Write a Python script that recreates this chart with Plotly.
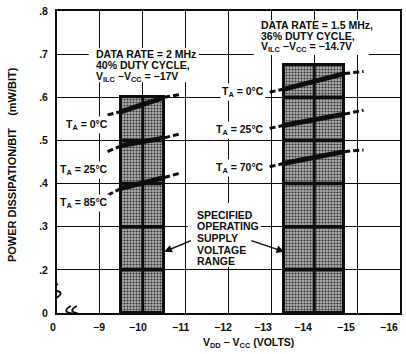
import plotly.graph_objects as go

# Specified operating supply ranges, V_DD - V_CC (volts), and band tops (mW/bit)
RANGE_LOW = [-9.5, -13.3]
RANGE_HIGH = [-10.5, -14.7]
RANGE_TOP = [0.60, 0.675]

# Power curves: extrapolated start, range edges, extrapolated end
G1_VOLTS = [-9.18, -9.5, -10.5, -10.9]
G1_TEMPS = ["0°C", "25°C", "85°C"]
G1_POWER = [
    [0.559, 0.567, 0.600, 0.607],
    [0.474, 0.488, 0.506, 0.516],
    [0.373, 0.389, 0.414, 0.425],
]
G2_VOLTS = [-12.96, -13.3, -14.7, -15.15]
G2_TEMPS = ["0°C", "25°C", "70°C"]
G2_POWER = [
    [0.612, 0.619, 0.655, 0.660],
    [0.528, 0.535, 0.561, 0.570],
    [0.439, 0.447, 0.474, 0.478],
]

X_TICKS = [-8, -9, -10, -11, -12, -13, -14, -15, -16]
X_TICK_TEXT = ["0", "−9", "−10", "−11", "−12", "−13", "−14", "−15", "−16"]
Y_TICKS = [0.1, 0.2, 0.3, 0.4, 0.5, 0.6, 0.7, 0.8]
Y_TICK_TEXT = ["0", ".2", ".3", ".4", ".5", ".6", ".7", ".8"]

G1_NOTE = ["DATA RATE = 2 MHz", "40% DUTY CYCLE,",
           "V<sub>ILC</sub> −V<sub>CC</sub> = −17V"]
G2_NOTE = ["DATA RATE = 1.5 MHz,", "36% DUTY CYCLE,",
           "V<sub>ILC</sub> −V<sub>CC</sub> = −14.7V"]
RANGE_NOTE = ["SPECIFIED", "OPERATING", "SUPPLY", "VOLTAGE", "RANGE"]

FONT = "Liberation Sans, Arial, Helvetica, sans-serif"
INK = "#0d0d0d"
FLOOR = Y_TICKS[0]  # axis floor, labelled "0" across the axis break

fig = go.Figure()

# shaded operating-range bands
for lo, hi, top in zip(RANGE_LOW, RANGE_HIGH, RANGE_TOP):
    fig.add_trace(go.Bar(
        x=[(lo + hi) / 2], y=[top - FLOOR], base=[FLOOR], width=[abs(hi - lo)],
        marker=dict(color="#a6a6a6",
                    line=dict(color=INK, width=3),
                    pattern=dict(shape=".", fgcolor="#2e2e2e", bgcolor="#b0b0b0",
                                 size=3, solidity=0.4)),
        showlegend=False, hoverinfo="skip"))

shapes = []

# heavy grid lines showing through the bands
for lo, hi, top in zip(RANGE_LOW, RANGE_HIGH, RANGE_TOP):
    for yv in Y_TICKS[1:]:
        if yv < top - 1e-6:
            shapes.append(dict(type="line", xref="x", yref="y", x0=lo, x1=hi,
                               y0=yv, y1=yv, line=dict(color=INK, width=3.5)))
    for xv in X_TICKS:
        if min(lo, hi) < xv < max(lo, hi):
            shapes.append(dict(type="line", xref="x", yref="y", x0=xv, x1=xv,
                               y0=FLOOR, y1=top, line=dict(color=INK, width=3)))

# white panels behind the note blocks
for x0, x1, y0, y1 in ((-8.74, -11.31, 0.635, 0.714),
                       (-12.59, -15.27, 0.698, 0.779),
                       (-11.05, -12.75, 0.207, 0.355)):
    shapes.append(dict(type="rect", xref="x", yref="y", x0=x0, x1=x1, y0=y0, y1=y1,
                       fillcolor="white", line=dict(width=0)))

# axis-break squiggles
S_PATH = "M -1,-7 C 5,-4 5,-1 0,0 C -5,1 -5,4 1,7"
breaks = [(X_TICKS[0], 0.151, [0])]
breaks.append((-8.37, FLOOR, [-3, 3]))
for bx, by, offs in breaks:
    shapes.append(dict(type="rect", xref="x", yref="y", xsizemode="pixel",
                       ysizemode="pixel", xanchor=bx, yanchor=by,
                       x0=min(offs) - 4, x1=max(offs) + 4, y0=-6, y1=6,
                       fillcolor="white", line=dict(width=0)))
    for o in offs:
        path = S_PATH.replace("M -1", f"M {o - 1}").replace("C 5,-4 5,-1 0,0",
                                                             f"C {o + 5},-4 {o + 5},-1 {o},0")
        path = path.replace("C -5,1 -5,4 1,7", f"C {o - 5},1 {o - 5},4 {o + 1},7")
        shapes.append(dict(type="path", xref="x", yref="y", xsizemode="pixel",
                           ysizemode="pixel", xanchor=bx, yanchor=by, path=path,
                           line=dict(color=INK, width=1.8)))


def add_curve(volts, power):
    # dashed extrapolations outside the band, solid heavy line inside it
    for (a, b), dash, w in (((0, 2), "6px,3px", 3), ((1, 3), "solid", 5), ((2, 4), "6px,3px", 3)):
        fig.add_trace(go.Scatter(x=volts[a:b], y=power[a:b], mode="lines",
                                 line=dict(color=INK, width=w, dash=dash),
                                 showlegend=False, hoverinfo="skip"))


for p in G1_POWER:
    add_curve(G1_VOLTS, p)
for p in G2_POWER:
    add_curve(G2_VOLTS, p)

ann = []


def label(text, x, y, xanchor="left", size=10.5, bg=None):
    ann.append(dict(text=text, x=x, y=y, xref="x", yref="y", xanchor=xanchor,
                    yanchor="middle", showarrow=False, bgcolor=bg, borderpad=1,
                    font=dict(family=FONT, size=size, color=INK, weight="bold")))


for line, yv in zip(G1_NOTE, [0.700, 0.675, 0.648]):
    label(line, -8.86, yv)
for line, yv in zip(G2_NOTE, [0.7675, 0.7425, 0.717]):
    label(line, -12.72, yv)
for line, yv in zip(RANGE_NOTE, [0.3267, 0.3018, 0.2749, 0.2471, 0.2199]):
    label(line, -11.21, yv)

for t, yv in zip(G1_TEMPS, [0.5355, 0.431, 0.3545]):
    label("T<sub>A</sub> = " + t, -9.24, yv, xanchor="right", bg="white")
for t, yv in zip(G2_TEMPS, [0.612, 0.524, 0.436]):
    label("T<sub>A</sub> = " + t, -12.88, yv, xanchor="right", bg="white")

# arrows pointing at the two bands
for hx, tx in ((RANGE_HIGH[0], -11.16), (RANGE_LOW[1], -12.5)):
    ann.append(dict(x=hx, y=0.242, ax=tx, ay=0.269, xref="x", yref="y",
                    axref="x", ayref="y", text="", showarrow=True,
                    arrowhead=2, arrowsize=1.1, arrowwidth=1.4, arrowcolor=INK))

# x tick labels, nudged left as typeset
for xv, txt, dx in zip(X_TICKS, X_TICK_TEXT, [-4, -1, -5, -5, -5, -8, -11, -11, -11]):
    ann.append(dict(text=txt, x=xv, y=-0.046, xref="x", yref="paper", xshift=dx,
                    showarrow=False, yanchor="middle",
                    font=dict(family=FONT, size=10.5, color=INK, weight="bold")))

# axis titles
ann.append(dict(text="V<sub>DD</sub> − V<sub>CC</sub> (VOLTS)", x=0.557, y=-0.099,
                xref="paper", yref="paper", showarrow=False, yanchor="middle",
                font=dict(family=FONT, size=10.5, color=INK, weight="bold")))
ann.append(dict(text="POWER DISSIPATION/BIT    (mW/BIT)", x=-0.131, y=0.49,
                xref="paper", yref="paper", showarrow=False, textangle=-90,
                xanchor="center", yanchor="middle",
                font=dict(family=FONT, size=11, color=INK, weight="bold")))

axis_common = dict(showline=True, linecolor=INK, linewidth=2, mirror=True,
                   showgrid=True, gridcolor=INK, gridwidth=1.3, zeroline=False,
                   ticks="", automargin=False,
                   tickfont=dict(family=FONT, size=10.5, color=INK, weight="bold"))

fig.update_layout(
    width=406, height=354, template="none",
    margin=dict(l=57, r=6, t=11, b=41),
    paper_bgcolor="white", plot_bgcolor="white",
    barmode="overlay", bargap=0,
    xaxis=dict(range=[X_TICKS[0], X_TICKS[-1] - 0.001], tickvals=X_TICKS,
               showticklabels=False, **axis_common),
    yaxis=dict(range=[Y_TICKS[0], Y_TICKS[-1]], tickvals=Y_TICKS, ticktext=Y_TICK_TEXT,
               ticklabelstandoff=5, **axis_common),
    shapes=shapes, annotations=ann,
)

fig.write_html("out.html")
